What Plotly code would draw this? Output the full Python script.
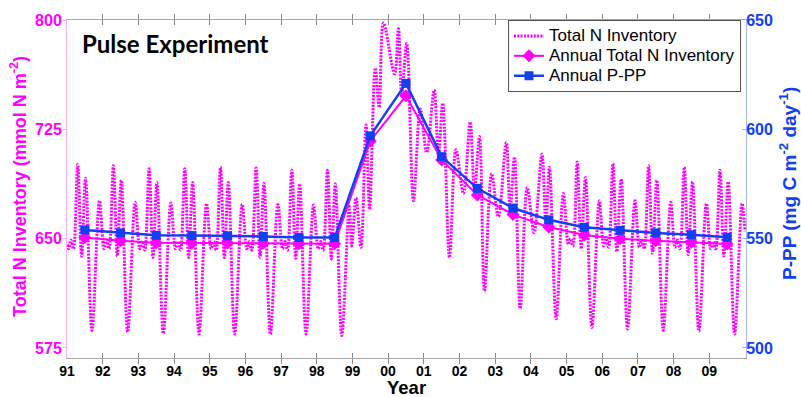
import plotly.graph_objects as go

# ---------------- data ----------------
# Total N inventory (seasonal, key points), decimal years
t_key = [
    1991.02, 1991.05, 1991.11, 1991.18, 1991.30, 1991.41, 1991.52, 1991.70, 1991.91,
    1992.04, 1992.11, 1992.18, 1992.30, 1992.41, 1992.52, 1992.70, 1992.91,
    1993.04, 1993.11, 1993.18, 1993.30, 1993.41, 1993.52, 1993.70, 1993.91,
    1994.04, 1994.11, 1994.18, 1994.30, 1994.41, 1994.52, 1994.70, 1994.91,
    1995.04, 1995.11, 1995.18, 1995.30, 1995.41, 1995.52, 1995.70, 1995.91,
    1996.04, 1996.11, 1996.18, 1996.30, 1996.41, 1996.52, 1996.70, 1996.91,
    1997.04, 1997.11, 1997.18, 1997.30, 1997.41, 1997.52, 1997.70, 1997.91,
    1998.04, 1998.11, 1998.18, 1998.30, 1998.41, 1998.52, 1998.70, 1998.91,
    1998.98, 1999.10, 1999.24, 1999.38, 1999.48, 1999.64, 1999.75, 1999.87,
    2000.18, 2000.29, 2000.38, 2000.52, 2000.71, 2000.90,
    2001.08, 2001.29, 2001.41, 2001.53, 2001.72, 2001.90,
    2002.11, 2002.30, 2002.42, 2002.56, 2002.70, 2002.90,
    2003.09, 2003.31, 2003.42, 2003.54, 2003.70, 2003.90,
    2004.09, 2004.31, 2004.42, 2004.52, 2004.71, 2004.91,
    2005.05, 2005.11, 2005.18, 2005.30, 2005.41, 2005.53, 2005.71, 2005.92,
    2006.04, 2006.11, 2006.18, 2006.30, 2006.41, 2006.53, 2006.71, 2006.92,
    2007.04, 2007.11, 2007.18, 2007.30, 2007.41, 2007.53, 2007.71, 2007.92,
    2008.04, 2008.11, 2008.18, 2008.30, 2008.41, 2008.53, 2008.71, 2008.92,
    2009.04, 2009.11, 2009.18, 2009.30, 2009.41, 2009.53, 2009.71, 2009.92,
    2010.00,
]
n_key = [
    646, 643, 649, 643, 701, 638, 691.5, 587, 676,
    643, 649, 643, 700, 638, 690, 586, 675,
    643, 648, 642, 698, 637, 688.5, 585, 674.5,
    643, 648, 642, 698, 637, 688.5, 584.5, 674,
    643, 648, 642, 699, 637, 688.5, 584.5, 673.5,
    643, 648, 642, 698.5, 637, 688, 584.5, 673.5,
    643, 648, 642, 697, 636.5, 687.5, 584.5, 673,
    643, 648, 642, 697, 636, 687.5, 583.5, 672,
    645, 678, 644, 728, 670, 767, 740, 798,
    763, 794, 748, 784, 676, 739,
    709, 752, 706, 743, 637, 711,
    681, 730, 683, 720, 614, 694.5,
    665, 716, 669, 706, 602, 685,
    654, 708, 660, 699, 595, 681,
    646, 650, 645, 702.5, 643, 692, 589, 676,
    645, 650, 644, 701.5, 641, 691, 588, 676,
    644, 649, 643, 700, 640, 690, 587, 675,
    644, 649, 643, 699, 639, 689, 586.5, 674,
    643, 648, 643, 697, 638, 689, 584.5, 674,
    655,
]

# Annual values (mid-year)
years_mid = [1991.5, 1992.5, 1993.5, 1994.5, 1995.5, 1996.5, 1997.5, 1998.5, 1999.5, 2000.5,
             2001.5, 2002.5, 2003.5, 2004.5, 2005.5, 2006.5, 2007.5, 2008.5, 2009.5]
annual_N = [650.8, 648.5, 647.2, 647.0, 647.0, 646.8, 646.5, 646.5, 717.0, 748.0,
            704.0, 680.0, 666.5, 658.0, 652.5, 650.0, 648.6, 647.5, 646.4]
annual_PP = [554.0, 552.6, 551.5, 551.4, 551.3, 551.0, 550.5, 550.5, 597.0, 621.0,
             587.5, 573.0, 564.0, 558.6, 555.2, 553.8, 552.6, 551.8, 550.6]

x_tickvals = list(range(1991, 2010))
x_ticktext = ["91", "92", "93", "94", "95", "96", "97", "98", "99", "00",
              "01", "02", "03", "04", "05", "06", "07", "08", "09"]
yl_ticks = [575, 650, 725, 800]
yr_ticks = [500, 550, 600, 650]

series_names = ["Total N Inventory", "Annual Total N Inventory", "Annual P-PP"]

# ---------------- styling ----------------
MAG = "#FF00FF"
BLUE = "#1040F0"
FONT = "Liberation Sans, Arial, sans-serif"

W, H = 801, 397
L, R, T, B = 67, 55, 20, 39
pw = W - L - R
ph = H - T - B

def px_x(x):
    return (x - L) / pw

def px_y(y):
    return 1 - (y - T) / ph

def legend_label(s):
    return '<span style="font-size:17px">' + s + '</span>'

fig = go.Figure()

fig.add_trace(go.Scatter(
    x=t_key, y=n_key, mode="lines", name=legend_label(series_names[0]),
    line=dict(color=MAG, width=3, dash="2px,1.3px", shape="spline", smoothing=1.0),
    yaxis="y",
))
fig.add_trace(go.Scatter(
    x=years_mid, y=annual_N, mode="lines+markers", name=legend_label(series_names[1]),
    line=dict(color=MAG, width=2),
    marker=dict(symbol="diamond", size=10, color=MAG),
    yaxis="y",
))
fig.add_trace(go.Scatter(
    x=years_mid, y=annual_PP, mode="lines+markers", name=legend_label(series_names[2]),
    line=dict(color=BLUE, width=2.5),
    marker=dict(symbol="square", size=9, color=BLUE),
    yaxis="y2",
))

fig.update_layout(
    width=W, height=H,
    margin=dict(l=L, r=R, t=T, b=B),
    paper_bgcolor="white", plot_bgcolor="white",
    font=dict(family=FONT),
    showlegend=True,
    legend=dict(
        x=px_x(741), y=px_y(20), xanchor="right", yanchor="top",
        bgcolor="white", bordercolor="#555555", borderwidth=1,
        font=dict(family=FONT, size=13, color="black"),
        itemwidth=30, tracegroupgap=0,
    ),
    xaxis=dict(
        range=[1991, 2010.03], tickvals=x_tickvals, ticktext=x_ticktext,
        ticks="inside", ticklen=5, tickcolor="#888888", tickwidth=1,
        showline=True, linecolor="#A8A8A8", linewidth=1, mirror="allticks",
        showgrid=False, zeroline=False,
        tickfont=dict(family=FONT, size=14, color="black", weight="bold"),
    ),
    yaxis=dict(
        range=[568.1, 800], tickvals=yl_ticks, ticktext=[str(v) for v in yl_ticks],
        ticks="outside", ticklen=3, tickcolor="#FFA0FF",
        showline=True, linecolor="#FFB0FF", linewidth=1,
        showgrid=False, zeroline=False, ticklabelstandoff=-2,
        tickfont=dict(family=FONT, size=16, color=MAG, weight="bold"),
    ),
    yaxis2=dict(
        range=[495.4, 650], tickvals=yr_ticks, ticktext=[str(v) for v in yr_ticks],
        overlaying="y", side="right",
        ticks="inside", ticklen=4, tickcolor="#A0B0F0",
        showline=True, linecolor="#A8B8F0", linewidth=1,
        showgrid=False, zeroline=False, ticklabelstandoff=-4,
        tickfont=dict(family=FONT, size=16, color=BLUE, weight="bold"),
    ),
    annotations=[
        dict(text="<b>Pulse Experiment</b>", xref="paper", yref="paper",
             x=px_x(80), y=px_y(43), xanchor="left", yanchor="middle",
             showarrow=False, font=dict(family="Lato, sans-serif", size=24, color="black")),
        dict(text="<b>Total N Inventory (mmol N m<sup>-2</sup>)</b>", xref="paper", yref="paper",
             x=px_x(18), y=px_y(187), xanchor="center", yanchor="middle", textangle=-90,
             showarrow=False, font=dict(family=FONT, size=18, color=MAG)),
        dict(text="<b>P-PP (mg C m<sup>-2</sup> day<sup>-1</sup>)</b>", xref="paper", yref="paper",
             x=px_x(788), y=px_y(184), xanchor="center", yanchor="middle", textangle=-90,
             showarrow=False, font=dict(family=FONT, size=19, color=BLUE)),
        dict(text="<b>Year</b>", xref="paper", yref="paper",
             x=0.5, y=px_y(387), xanchor="center", yanchor="middle",
             showarrow=False, font=dict(family=FONT, size=18.5, color="black")),
    ],
)

fig.write_html("out.html")
